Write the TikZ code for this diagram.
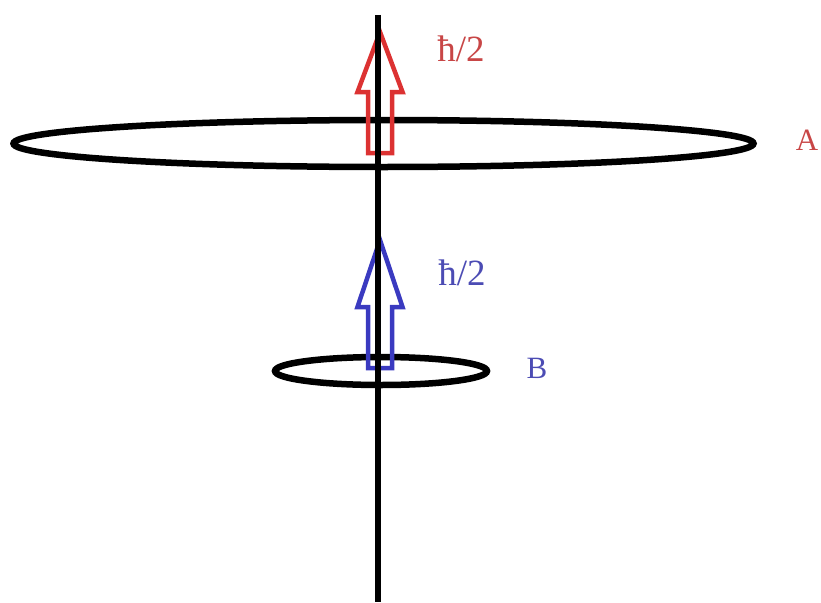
\documentclass[tikz,border=0pt]{standalone}
\usepackage{fontspec}
\setmainfont{Liberation Serif}
\usepackage{tikz}
\usetikzlibrary{shapes.geometric}
\definecolor{kred}{HTML}{DC3232}
\definecolor{kblue}{HTML}{3A3AC0}
\definecolor{kredtext}{HTML}{C84646}
\definecolor{kbluetext}{HTML}{4C4CB4}
\tikzset{
  orbit/.style={draw=black, line width=6.5pt, ellipse, inner sep=0pt},
  axisline/.style={black, line width=6pt},
  spinarrow/.style={line width=4.5pt, line join=miter},
  hlabel/.style={font=\fontsize{37}{37}\selectfont, inner sep=0pt},
  letterlabel/.style={font=\fontsize{31}{31}\selectfont, inner sep=0pt},
}
% hollow block arrow: colour, tip y, head base y, bottom y
\newcommand{\spinblock}[4]{%
  \draw[spinarrow, #1] (380,#2) -- (402.5,#3) -- (392,#3) -- (392,#4)
    -- (368,#4) -- (368,#3) -- (357.5,#3) -- cycle;}

\begin{document}
\begin{tikzpicture}[x=1pt, y=-1pt]
  \useasboundingbox (0,0) rectangle (821,602);

  %% orbits
  \node[orbit, minimum width=740pt, minimum height=47pt] (orbitA) at (383.5,143.5) {};
  \node[orbit, minimum width=212pt, minimum height=28pt] (orbitB) at (381,371) {};

  %% spin arrows
  \spinblock{kred}{32}{92}{153}
  \spinblock{kblue}{240}{307}{368}

  %% axis
  \coordinate (axtop) at (378,15);
  \coordinate (axbot) at (378,602);
  \draw[axisline] (axtop) -- (axbot);

  %% labels
  \node[hlabel, text=kredtext] (spinA) at (461,49) {ħ/2};
  \node[hlabel, text=kbluetext] (spinB) at (462,273) {ħ/2};
  \node[letterlabel, text=kredtext] (labA) at (807,140) {A};
  \node[letterlabel, text=kbluetext] (labB) at (537,368) {B};

\end{tikzpicture}
\end{document}
